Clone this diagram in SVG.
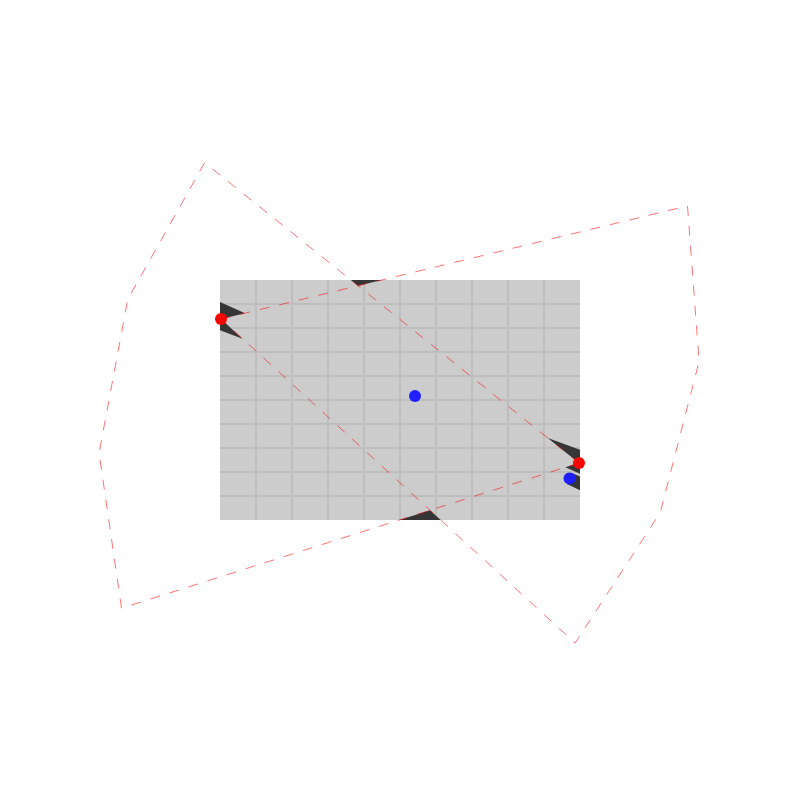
<svg xmlns="http://www.w3.org/2000/svg" width="800" height="800" viewBox="0 0 800 800">
  <style>
    .grid { stroke: #000; stroke-opacity: 0.07; stroke-width: 2; fill: none; }
    .shade { fill: #363636; }
    .fov { fill: none; stroke: #ff0000; stroke-opacity: 0.55; stroke-width: 1; stroke-dasharray: 10 10; }
    .cam { fill: #ff0000; }
    .obst { fill: #1f1fff; }
  </style>
  <rect width="800" height="800" fill="#ffffff"/>
  <g id="floor">
    <rect x="220" y="280" width="360" height="240" fill="#cccccc"/>
    <path class="grid" d="M256 280V520M292 280V520M328 280V520M364 280V520M400 280V520M436 280V520M472 280V520M508 280V520M544 280V520M220 304H580M220 328H580M220 352H580M220 376H580M220 400H580M220 424H580M220 448H580M220 472H580M220 496H580"/>
  </g>
  <g id="uncovered">
    <polygon class="shade" points="350.8,280 381.8,280 358,285.8"/>
    <polygon class="shade" points="399.3,520 440.7,520 430,510.3"/>
    <polygon class="shade" points="220,301.95 245.02,313.17 221,319 242.48,338.66 220,330.35"/>
    <polygon class="shade" points="547.7,438 580,449.67 580,473.63 565.36,467.33 579,463"/>
    <polygon class="shade" points="571.97,473.05 580,476.59 580,490.17 566.93,483.94"/>
  </g>
  <g id="connectors">
    <path class="fov" d="M221 319L687.5 205.9L699.1 361.4L660.3 512.5L575.1 643Z"/>
    <path class="fov" d="M579 463L204.6 162.7L127.8 299.2L99.1 453.1L121.5 608.2Z"/>
  </g>
  <g id="camera-1"><circle class="cam" cx="221" cy="319" r="6"/></g>
  <g id="camera-2"><circle class="cam" cx="579" cy="463" r="6"/></g>
  <g id="obstacle-1"><circle class="obst" cx="415" cy="396" r="6"/></g>
  <g id="obstacle-2"><circle class="obst" cx="569.5" cy="478.5" r="6"/></g>
</svg>
